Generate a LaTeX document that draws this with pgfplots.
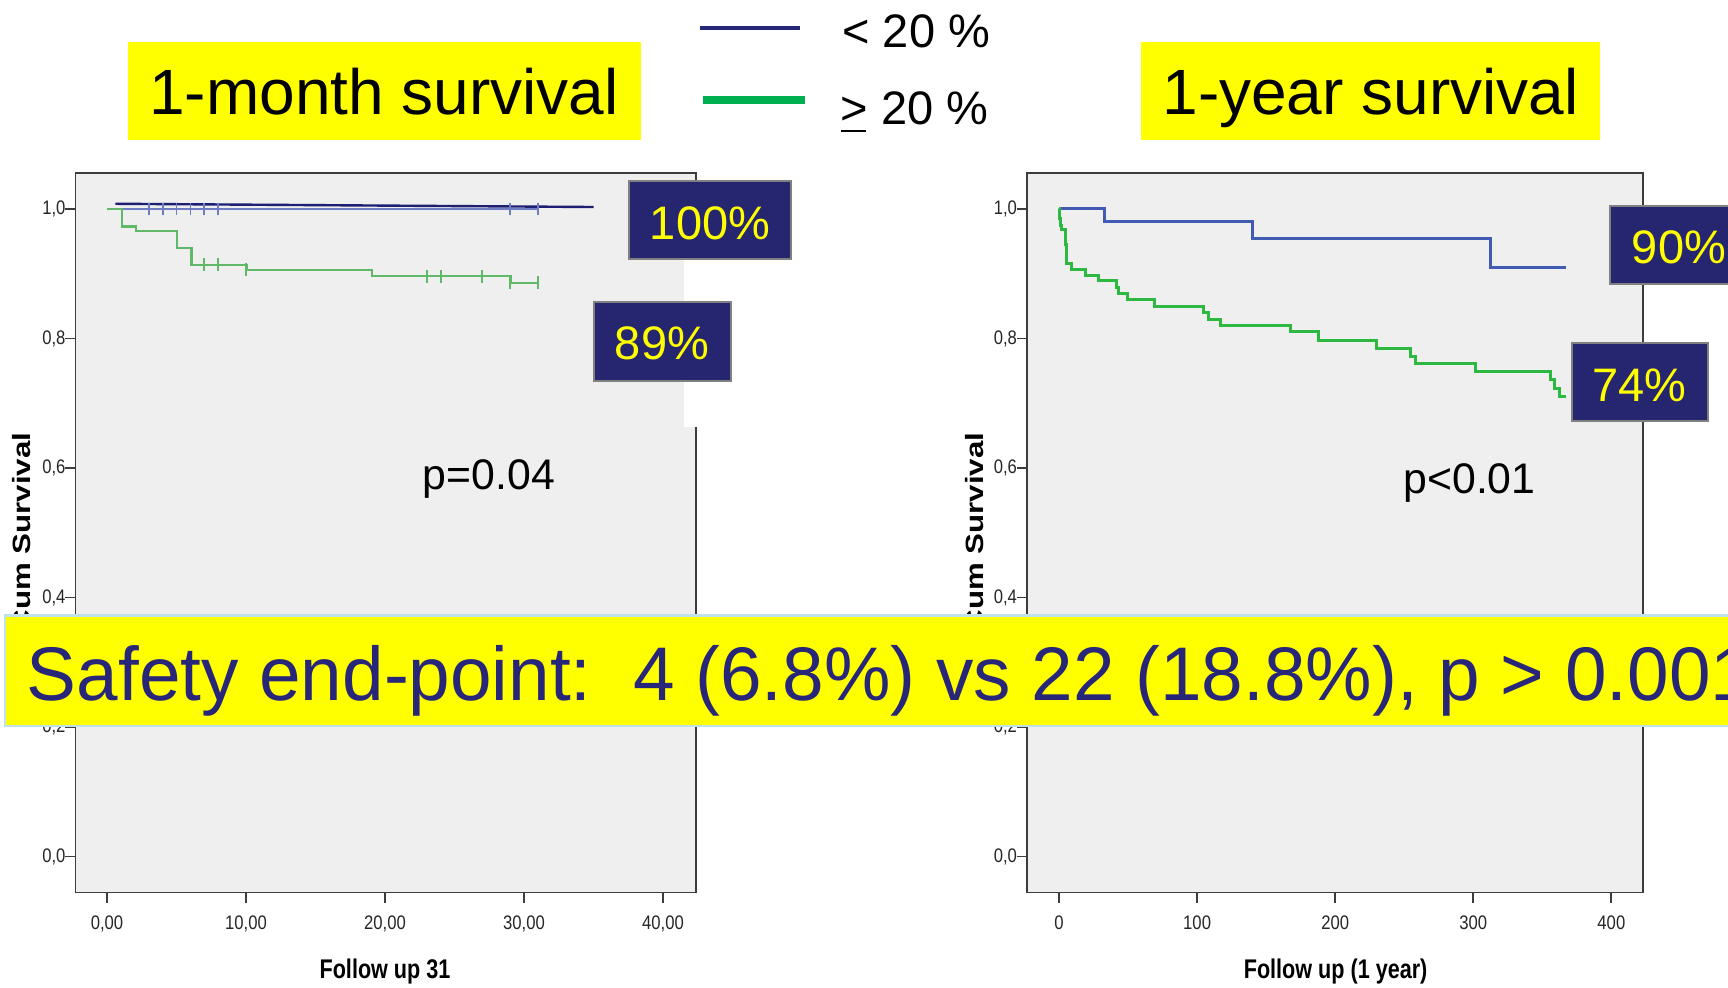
\documentclass[border=0pt]{standalone}
\usepackage{fontspec}
\setmainfont{Liberation Sans}
\newfontfamily\narrowfont[FakeStretch=0.85]{Liberation Sans}
\newfontfamily\xlabfont[FakeStretch=0.8]{Liberation Sans}
\newfontfamily\tallfont[FakeStretch=1.25]{Liberation Sans}
\newfontfamily\bannerfont[FakeStretch=0.983]{Liberation Sans}
\usepackage{pgfplots}
\pgfplotsset{compat=1.18}
\definecolor{navybox}{RGB}{38,38,112}
\definecolor{navyline}{RGB}{30,30,115}
\definecolor{kmblueL}{RGB}{110,125,195}
\definecolor{kmgreenL}{RGB}{95,185,105}
\definecolor{kmblueR}{RGB}{65,90,180}
\definecolor{kmgreenR}{RGB}{45,185,65}
\definecolor{legendgreen}{RGB}{0,176,80}
\definecolor{legendnavy}{RGB}{40,40,120}
\definecolor{bannertext}{RGB}{40,38,120}
\definecolor{bannerborder}{RGB}{190,225,235}
\definecolor{plotbg}{RGB}{239,239,239}
\definecolor{framecol}{RGB}{60,60,60}
\definecolor{pureyellow}{RGB}{255,255,0}
\pgfplotsset{kmaxis/.style={
  scale only axis, height=359.9pt,
  ymin=-0.0556, ymax=1.056,
  axis background/.style={fill=plotbg},
  axis line style={draw=framecol, line width=0.9pt},
  tick pos=left, tick align=outside, major tick length=5pt,
  tick style={draw=framecol, line width=0.9pt},
  ytick={0,0.2,0.4,0.6,0.8,1.0},
  yticklabels={{0,0},{0,2},{0,4},{0,6},{0,8},{1,0}},
  ticklabel style={font=\narrowfont\fontsize{9.8}{10}\selectfont, text=black!85},
  xticklabel style={yshift=-3pt},
  yticklabel style={xshift=3.5pt},
  clip=false
}}
\begin{document}
\begin{tikzpicture}
\path[use as bounding box] (0pt,0pt) rectangle (864pt,-494pt);
\clip (0pt,0pt) rectangle (864pt,-494pt);
\fill[white] (0pt,0pt) rectangle (864pt,-494pt);
% left: 1-month
\begin{axis}[kmaxis, at={(37.75pt,-446.25pt)}, anchor=south west,
  width=310.25pt, xmin=-2.27, xmax=42.37,
  xtick={0,10,20,30,40},
  xticklabels={{0,00},{10,00},{20,00},{30,00},{40,00}}]
\addplot[kmblueL, line width=1pt, const plot] coordinates {(0,1) (31,1)};
\addplot[kmblueL, only marks, mark=|, mark size=3.2pt, mark options={line width=0.9pt}] coordinates {(3,1) (4,1) (5,1) (6,1) (7,1) (8,1) (29,1) (31,1)};
\addplot[kmgreenL, line width=1.1pt, const plot] coordinates {(0,1.0) (1.07,0.973) (2.1,0.966) (5.06,0.940) (6.07,0.914) (10.06,0.906) (19.05,0.896) (29.05,0.886) (31,0.886)};
\addplot[kmgreenL, only marks, mark=|, mark size=3.2pt, mark options={line width=0.9pt}] coordinates {(7,0.914) (8,0.914) (10,0.906) (23,0.896) (24,0.896) (27,0.896) (29,0.886) (31,0.886)};
\addplot[navyline, line width=1.2pt] coordinates {(0.6,1.008) (35,1.003)};
\end{axis}
% right: 1-year
\begin{axis}[kmaxis, at={(513.5pt,-446.25pt)}, anchor=south west,
  width=307.85pt, xmin=-23.2, xmax=422.7,
  xtick={0,100,200,300,400},
  xticklabels={0,100,200,300,400}]
\addplot[kmblueR, line width=1.5pt, const plot] coordinates {(0,1.0) (33,0.980) (140.3,0.954) (312.7,0.910) (367,0.910)};
\addplot[kmgreenR, line width=1.5pt, const plot] coordinates {(0,1.0) (0.5,0.985) (1.0,0.975) (1.5,0.968) (4.8,0.945) (5.4,0.916) (9.2,0.906) (18.8,0.898) (28.5,0.890) (41.3,0.878) (42.8,0.869) (49.8,0.860) (69.1,0.850) (104.6,0.840) (108.2,0.829) (117.1,0.820) (167.9,0.810) (187.9,0.797) (230.1,0.785) (254.3,0.772) (257.8,0.761) (301.5,0.749) (355.7,0.736) (358.8,0.723) (362.7,0.710) (367,0.710)};
\end{axis}
\begin{scope}[x=0.5pt,y=-0.5pt]
% white patch over left frame
\fill[white] (684,259) rectangle (712,427);
% axis titles
\node[rotate=90, inner sep=0] at (22,532.6) {\tallfont\bfseries\fontsize{12.5}{13}\selectfont Cum Survival};
\node[rotate=90, inner sep=0] at (975,532.6) {\tallfont\bfseries\fontsize{12.5}{13}\selectfont Cum Survival};
\node[inner sep=0] at (385,972) {\xlabfont\bfseries\fontsize{13.5}{14}\selectfont Follow up 31};
\node[inner sep=0] at (1335.6,972) {\xlabfont\bfseries\fontsize{13.5}{14}\selectfont Follow up (1 year)};
% title boxes
\fill[pureyellow] (127.5,42) rectangle (641,139.7);
\node[anchor=base, inner sep=0] at (384,114.3) {\fontsize{32}{34}\selectfont 1-month survival};
\fill[pureyellow] (1141,42) rectangle (1600,139.7);
\node[anchor=base, inner sep=0] at (1370.5,114.3) {\fontsize{32}{34}\selectfont 1-year survival};
% legend
\draw[legendnavy, line width=2pt] (700,28) -- (800,28);
\draw[legendgreen, line width=4pt] (703,100) -- (805,100);
\node[anchor=base west, inner sep=0] at (842,47.7) {\fontsize{23.5}{25}\selectfont <\ 20 \%};
\node[anchor=base west, inner sep=0] at (840.5,125) {\fontsize{23.5}{25}\selectfont >\ 20 \%};
\draw[black, line width=1pt] (840.5,131.5) -- (866,131.5);
% p-values
\node[anchor=base, inner sep=0] at (489,489) {\fontsize{21.4}{23}\selectfont p=0.04};
\node[anchor=base, inner sep=0] at (1469.5,494) {\fontsize{21.4}{23}\selectfont p<0.01};
% value boxes
\filldraw[fill=navybox, draw=gray, line width=1pt] (629,181) rectangle (791,259);
\node[anchor=base, inner sep=0, text=pureyellow] at (710,240) {\fontsize{23.5}{25}\selectfont 100\%};
\filldraw[fill=navybox, draw=gray, line width=1pt] (593.5,302.5) rectangle (730.5,381);
\node[anchor=base, inner sep=0, text=pureyellow] at (662,360) {\fontsize{23.5}{25}\selectfont 89\%};
\filldraw[fill=navybox, draw=gray, line width=1pt] (1610,206.5) rectangle (1775,284);
\node[anchor=base west, inner sep=0, text=pureyellow] at (1631.5,264) {\fontsize{23.5}{25}\selectfont 90\%};
\filldraw[fill=navybox, draw=gray, line width=1pt] (1571.5,343.5) rectangle (1707.5,421);
\node[anchor=base, inner sep=0, text=pureyellow] at (1639.7,401.7) {\fontsize{23.5}{25}\selectfont 74\%};
% banner
\filldraw[fill=pureyellow, draw=bannerborder, line width=1.2pt] (5,615.5) rectangle (1745,726);
\node[anchor=base west, inner sep=0, text=bannertext] at (26.5,700) {\bannerfont\fontsize{38}{40}\selectfont Safety end-point:\ \ 4 (6.8\%) vs 22 (18.8\%), p > 0.001};
\end{scope}
\end{tikzpicture}
\end{document}
